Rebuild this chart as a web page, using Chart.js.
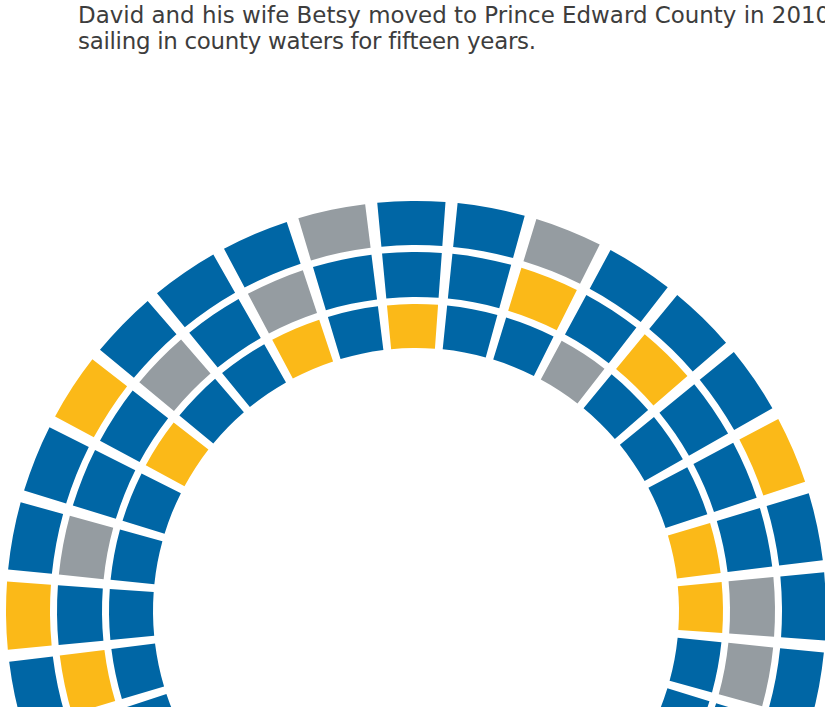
<!DOCTYPE html>
<html>
<head>
<meta charset="utf-8">
<script src="https://cdn.jsdelivr.net/npm/chart.js@4/dist/chart.umd.min.js"></script>
<style>
  html, body { margin: 0; padding: 0; width: 825px; height: 707px; overflow: hidden; background: #ffffff; }
  #intro {
    position: absolute; left: 78px; top: 2px;
    font-family: "DejaVu Sans", sans-serif; font-size: 20.5px; line-height: 26px;
    color: #3d3d3d; white-space: nowrap;
  }
  #wrap { position: absolute; left: 6px; top: 201px; width: 820px; height: 820px; }
</style>
</head>
<body>
<div id="intro"><span id="l1">David and his wife Betsy moved to Prince Edward County in 2010</span><br><span id="l2">sailing in county waters for fifteen years.</span></div>
<div id="wrap"><canvas id="c" width="820" height="820"></canvas></div>
<script>
// Seat categories, clockwise from the top seat (index 0), one entry per seat.
const categories = ['Blue', 'Gray', 'Yellow'];
const outerRing = ['Blue','Blue','Gray','Blue','Blue','Blue','Yellow','Blue','Blue','Blue',
                   'Blue','Gray','Blue','Blue','Yellow','Blue','Blue','Blue','Gray','Blue','Blue','Yellow','Blue',
                   'Blue','Yellow','Blue','Blue','Yellow','Blue','Blue','Blue','Gray'];
const middleRing = ['Blue','Blue','Yellow','Blue','Yellow','Blue','Blue','Blue','Gray','Gray',
                    'Blue','Blue','Yellow','Blue','Blue','Gray','Blue','Blue','Blue','Yellow','Blue','Blue','Blue',
                    'Yellow','Blue','Gray','Blue','Blue','Gray','Blue','Gray','Blue'];
const innerRing = ['Yellow','Blue','Blue','Gray','Blue','Blue','Blue','Yellow','Yellow','Blue','Blue',
                   'Blue','Gray','Blue','Blue','Yellow','Blue','Blue','Gray','Blue','Blue','Blue',
                   'Blue','Blue','Blue','Blue','Blue','Yellow','Blue','Blue','Yellow','Blue'];
const seatValue = 1;

const palette = { Blue: '#0066a5', Gray: '#959ca1', Yellow: '#fbb918' };
const gapShare = 0.178;            // angular gap between seats, relative to one seat
const clear = 'rgba(255,255,255,0)';

function ringDataset(ring, weight) {
  const data = [], colors = [];
  ring.forEach(cat => {
    data.push(seatValue); colors.push(palette[cat]);
    data.push(seatValue * gapShare); colors.push(clear);
  });
  return { data, backgroundColor: colors, borderWidth: 0, weight };
}
function spacer(weight) {
  return { data: [1], backgroundColor: [clear], borderWidth: 0, weight };
}

const seatAngle = 360 / outerRing.length / (1 + gapShare);
new Chart(document.getElementById('c'), {
  type: 'doughnut',
  data: {
    labels: outerRing.flatMap((c, i) => ['Seat ' + (i + 1), '']),
    datasets: [
      ringDataset(outerRing, 44),
      spacer(7),
      ringDataset(middleRing, 45),
      spacer(7),
      ringDataset(innerRing, 44)
    ]
  },
  options: {
    responsive: false,
    animation: false,
    events: [],
    cutout: 263,
    rotation: -0.65 - seatAngle / 2,
    layout: { padding: 0 },
    plugins: { legend: { display: false }, tooltip: { enabled: false } }
  }
});

// fit the intro text widths to the reference
(function () {
  function measure(text, size) {
    const probe = document.createElement('span');
    probe.textContent = text;
    probe.style.cssText = 'position:absolute;visibility:hidden;white-space:nowrap;font-family:"DejaVu Sans";font-size:' + size + 'px;';
    document.body.appendChild(probe);
    const w = probe.getBoundingClientRect().width;
    document.body.removeChild(probe);
    return w;
  }
  const size = 20.5 * 738 / measure('David and his wife Betsy moved to Prince Edward County in 201', 20.5);
  document.getElementById('intro').style.fontSize = size.toFixed(2) + 'px';
  const l2text = 'sailing in county waters for fifteen years.';
  const w2 = measure(l2text, size);
  const ls = (458 - w2) / (l2text.length - 1);
  document.getElementById('l2').style.letterSpacing = ls.toFixed(3) + 'px';
})();
</script>
</body>
</html>
